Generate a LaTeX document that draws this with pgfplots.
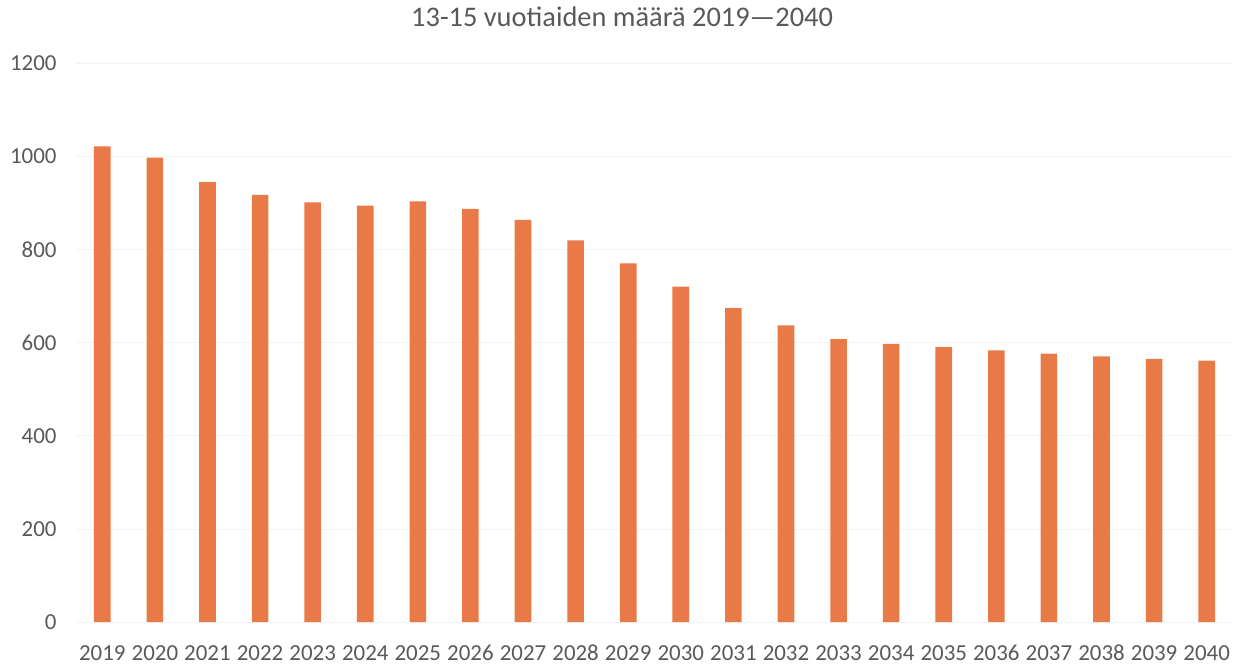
\documentclass[border=0pt]{standalone}
\usepackage{pgfplots}
\pgfplotsset{compat=1.18}
\usepackage{fontspec}
\setmainfont{Carlito}
\definecolor{barorange}{HTML}{E97A48}
\definecolor{txtgray}{HTML}{595959}
\definecolor{gridgray}{HTML}{F4F4F4}
\pgfplotstableread{
idx val
0 1021
1 997
2 944
3 917
4 901
5 894
6 903
7 887
8 863
9 819
10 770
11 720
12 674
13 637
14 607
15 597
16 590
17 583
18 576
19 570
20 565
21 561
}\datatable
\begin{document}
\begin{tikzpicture}
\path[use as bounding box] (-76bp,-44bp) rectangle (1158bp,622bp);
\begin{axis}[
  at={(0,0)}, anchor=south west,
  scale only axis,
  width=1157bp, height=559bp,
  xmin=-0.5, xmax=21.5,
  ymin=0, ymax=1200,
  ytick={0,200,...,1200},
  xtick=data,
  xticklabels={2019,2020,2021,2022,2023,2024,2025,2026,2027,2028,2029,2030,2031,2032,2033,2034,2035,2036,2037,2038,2039,2040},
  axis line style={draw=none},
  major tick length=0pt,
  ymajorgrids,
  grid style={draw=gridgray, line width=0.6pt},
  tick label style={font=\fontsize{23}{27}\selectfont, text=txtgray},
  yticklabel style={xshift=-16bp},
  xticklabel style={anchor=base, yshift=-38bp},
  /pgf/number format/assume math mode=true,
  /pgf/number format/1000 sep={},
  title={13-15 vuotiaiden määrä 2019—2040},
  title style={font=\fontsize{28.5}{33}\selectfont, text=txtgray, at={(rel axis cs:0.472,1)}, anchor=center, yshift=40bp},
]
\addplot[ybar, bar width=16.6bp, fill=barorange, draw=none] table[x=idx, y=val] {\datatable};
\end{axis}
\end{tikzpicture}
\end{document}
